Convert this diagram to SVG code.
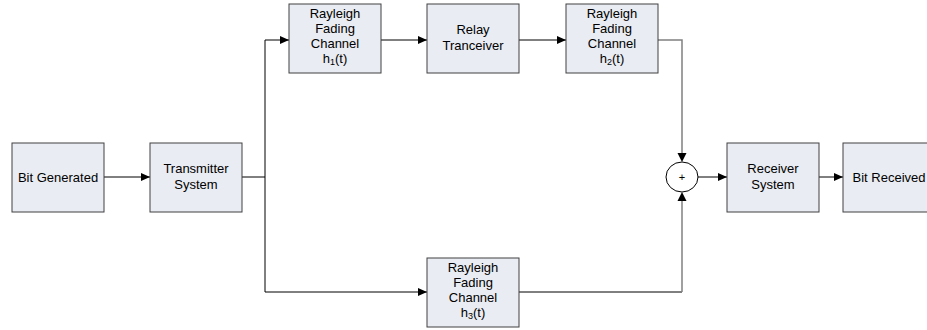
<svg xmlns="http://www.w3.org/2000/svg" width="927" height="330" viewBox="0 0 927 330">
<defs>
<style>
.box{fill:#e9ecf2;stroke:#404040;stroke-width:1}
.t{font-family:"Liberation Sans",Arial,sans-serif;font-size:13px;fill:#000;text-anchor:middle}
.sub{font-size:9px}
.c{fill:none;stroke:#000;stroke-width:1}
.g{fill:none;stroke:#808080;stroke-width:1.5}
</style>
<marker id="ah" markerWidth="10" markerHeight="8" refX="9" refY="4" orient="auto" markerUnits="userSpaceOnUse">
<path d="M0,0 L9,4 L0,8 Z" fill="#000"/>
</marker>
</defs>
<rect width="927" height="330" fill="#fff"/>
<g id="connectors">
<line class="c" x1="104" y1="177" x2="150" y2="177" marker-end="url(#ah)"/>
<polyline class="c" points="242,177 265,177"/>
<polyline class="c" points="265,177 265,40 289,40" marker-end="url(#ah)"/>
<polyline class="c" points="265,177 265,292 427,292" marker-end="url(#ah)"/>
<line class="c" x1="381" y1="40" x2="427" y2="40" marker-end="url(#ah)"/>
<line class="c" x1="519" y1="40" x2="566" y2="40" marker-end="url(#ah)"/>
<polyline class="g" points="658,40 682,40 682,155"/>
<path d="M677.5,153 L682,162 L686.5,153 Z" fill="#000"/>
<polyline class="c" points="519,292 682,292"/>
<polyline class="g" points="682,292 682,199"/>
<path d="M677.5,201 L682,192 L686.5,201 Z" fill="#000"/>
<line class="c" x1="698" y1="177" x2="727" y2="177" marker-end="url(#ah)"/>
<line class="c" x1="819" y1="177" x2="843" y2="177" marker-end="url(#ah)"/>
</g>
<g id="bit-generated">
<rect class="box" x="12" y="143" width="92" height="69"/>
<text class="t" x="58" y="182">Bit Generated</text>
</g>
<g id="transmitter">
<rect class="box" x="150" y="143" width="92" height="69"/>
<text class="t" x="196" y="173">Transmitter</text>
<text class="t" x="196" y="189">System</text>
</g>
<g id="channel-h1">
<rect class="box" x="289" y="4" width="92" height="69"/>
<text class="t" x="335" y="18">Rayleigh</text>
<text class="t" x="335" y="33">Fading</text>
<text class="t" x="335" y="48">Channel</text>
<text class="t" x="335" y="63">h<tspan class="sub" dy="2">1</tspan><tspan dy="-2">(t)</tspan></text>
</g>
<g id="relay">
<rect class="box" x="427" y="4" width="92" height="69"/>
<text class="t" x="473" y="34">Relay</text>
<text class="t" x="473" y="50">Tranceiver</text>
</g>
<g id="channel-h2">
<rect class="box" x="566" y="4" width="92" height="69"/>
<text class="t" x="612" y="18">Rayleigh</text>
<text class="t" x="612" y="33">Fading</text>
<text class="t" x="612" y="48">Channel</text>
<text class="t" x="612" y="63">h<tspan class="sub" dy="2">2</tspan><tspan dy="-2">(t)</tspan></text>
</g>
<g id="channel-h3">
<rect class="box" x="427" y="258" width="92" height="69"/>
<text class="t" x="473" y="272">Rayleigh</text>
<text class="t" x="473" y="287">Fading</text>
<text class="t" x="473" y="302">Channel</text>
<text class="t" x="473" y="317">h<tspan class="sub" dy="2">3</tspan><tspan dy="-2">(t)</tspan></text>
</g>
<g id="sum">
<ellipse cx="682" cy="177" rx="16" ry="15" fill="#fff" stroke="#000" stroke-width="1"/>
<text class="t" x="682" y="181" style="font-size:11px">+</text>
</g>
<g id="receiver">
<rect class="box" x="727" y="143" width="92" height="69"/>
<text class="t" x="773" y="173">Receiver</text>
<text class="t" x="773" y="189">System</text>
</g>
<g id="bit-received">
<rect class="box" x="843" y="143" width="92" height="69"/>
<text class="t" x="889" y="182">Bit Received</text>
</g>
</svg>
